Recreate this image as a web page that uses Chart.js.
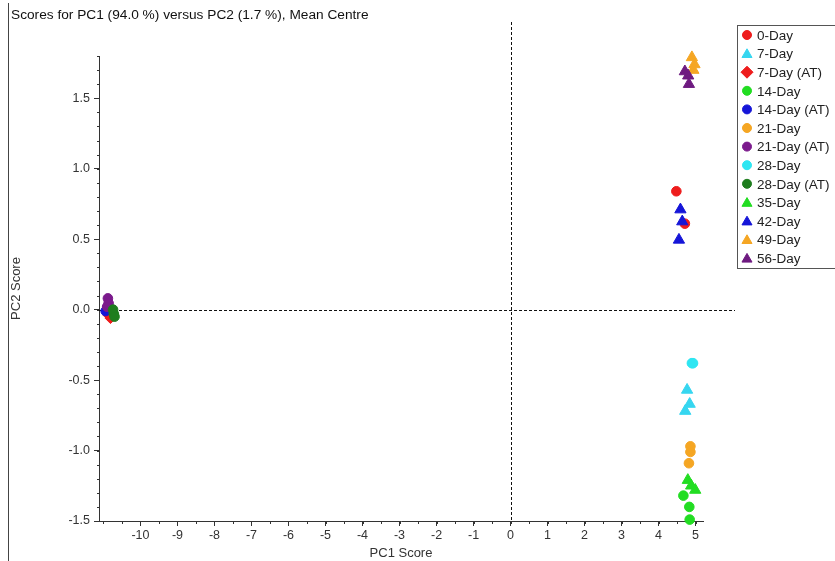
<!DOCTYPE html>
<html>
<head>
<meta charset="utf-8">
<script src="https://cdn.jsdelivr.net/npm/chart.js@4/dist/chart.umd.min.js"></script>
<style>
html,body{margin:0;background:#fff}
#wrap{position:relative;width:835px;height:561px}
</style>
</head>
<body>
<div id="wrap"><canvas id="scores" width="835" height="561"></canvas></div>
<script>
const titleText='Scores for PC1 (94.0 %) versus PC2 (1.7 %), Mean Centre';
const seriesNames=['0-Day','7-Day','7-Day (AT)','14-Day','14-Day (AT)','21-Day','21-Day (AT)','28-Day','28-Day (AT)','35-Day','42-Day','49-Day','56-Day'];

// [PC1, PC2] score pairs for each group
const day0=[[4.48,0.84],[4.71,0.61]];
const day7=[[4.77,-0.57],[4.84,-0.67],[4.72,-0.72]];
const day7AT=[[-10.86,-0.04],[-10.81,-0.06]];
const day14=[[4.67,-1.32],[4.83,-1.40],[4.84,-1.49]];
const day14AT=[[-10.94,-0.01],[-10.90,0.01]];
const day21=[[4.86,-0.97],[4.86,-1.01],[4.82,-1.09]];
const day21AT=[[-10.88,0.08],[-10.86,0.045],[-10.90,0.02]];
const day28=[[4.90,-0.38],[4.93,-0.38]];
const day28AT=[[-10.74,0.0],[-10.72,-0.03],[-10.70,-0.05]];
const day35=[[4.79,-1.21],[4.99,-1.28],[4.88,-1.25]];
const day42=[[4.59,0.71],[4.64,0.625],[4.55,0.495]];
const day49=[[4.90,1.79],[4.97,1.74],[4.94,1.70]];
const day56=[[4.71,1.69],[4.80,1.66],[4.82,1.60]];
const seriesData=[day0,day7,day7AT,day14,day14AT,day21,day21AT,day28,day28AT,day35,day42,day49,day56];

// axis ranges and labelled ticks
const pc1Range=[-11.12,5.2];
const pc2Range=[-1.5,1.8];
const pc1Labels=[-10,-9,-8,-7,-6,-5,-4,-3,-2,-1,0,1,2,3,4,5];
const pc2Labels=[-1.5,-1.0,-0.5,0.0,0.5,1.0,1.5];

const colors=['#ee1c1c','#36d6f0','#ee1c1c','#22dd22','#1515d8','#f5a623','#7b1a8c','#2ee6f2','#1e7d1e','#22dd22','#1515d8','#f5a623','#6e1a80'];
const shapes=['circle','triangle','rectRot','circle','circle','circle','circle','circle','circle','triangle','triangle','triangle','triangle'];
const FONT='"Liberation Sans", Arial, sans-serif';
const INK='#333';

function markerRadius(shape){return shape==='triangle'?6.5:shape==='rectRot'?5.5:4.8;}

function drawMarker(ctx,shape,x,y,r,color){
  ctx.save();
  ctx.fillStyle=color;ctx.strokeStyle=color;ctx.lineWidth=1;
  if(Chart.helpers && Chart.helpers.drawPoint){
    Chart.helpers.drawPoint(ctx,{pointStyle:shape,radius:r,rotation:0,borderWidth:1},x,y);
  }else{
    ctx.beginPath();ctx.arc(x,y,r,0,Math.PI*2);ctx.fill();
  }
  ctx.restore();
}

const decor={
  id:'decor',
  beforeDraw(chart){
    const ctx=chart.ctx;
    ctx.save();
    ctx.fillStyle='#fff';ctx.fillRect(0,0,chart.width,chart.height);
    ctx.strokeStyle='#444';ctx.lineWidth=1;
    ctx.beginPath();ctx.moveTo(8.5,3);ctx.lineTo(8.5,chart.height);ctx.stroke();
    ctx.fillStyle='#111';ctx.font='13.7px '+FONT;ctx.textBaseline='alphabetic';
    ctx.fillText(titleText,11,19);
    ctx.restore();
  },
  beforeDatasetsDraw(chart){
    const ctx=chart.ctx,x=chart.scales.x,y=chart.scales.y;
    const x0=Math.round(x.getPixelForValue(0))+0.5;
    const y0=Math.round(y.getPixelForValue(0))+0.5;
    ctx.save();
    ctx.strokeStyle='#111';ctx.lineWidth=1;ctx.setLineDash([3,2]);
    ctx.beginPath();
    ctx.moveTo(x0,22);ctx.lineTo(x0,chart.chartArea.bottom);
    ctx.moveTo(chart.chartArea.left,y0);ctx.lineTo(735,y0);
    ctx.stroke();
    ctx.restore();
  },
  afterDraw(chart){
    const ctx=chart.ctx,x=chart.scales.x,y=chart.scales.y,a=chart.chartArea;
    ctx.save();
    // minor ticks
    ctx.strokeStyle=INK;ctx.lineWidth=1;
    ctx.beginPath();
    for(let v=-15;v<=18;v++){
      const py=Math.round(y.getPixelForValue(v/10))+0.5;
      ctx.moveTo(a.left-2,py);ctx.lineTo(a.left,py);
    }
    for(let v=-22;v<=10;v++){
      const px=Math.round(x.getPixelForValue(v/2))+0.5;
      ctx.moveTo(px,a.bottom);ctx.lineTo(px,a.bottom+3);
    }
    ctx.stroke();
    // legend box
    ctx.strokeStyle='#555';
    ctx.strokeRect(737.5,25.5,110,243);
    ctx.font='13.5px '+FONT;ctx.textBaseline='middle';ctx.fillStyle='#222';
    seriesNames.forEach((name,i)=>{
      const ry=35+i*18.6;
      const r=shapes[i]==='triangle'?5.8:shapes[i]==='rectRot'?6:4.5;
      drawMarker(ctx,shapes[i],747,ry+(shapes[i]==='triangle'?1:0),r,colors[i]);
      ctx.fillStyle='#222';
      ctx.fillText(name,757,ry+1);
    });
    ctx.restore();
  }
};

const datasets=seriesNames.map((name,i)=>({
  label:name,
  data:seriesData[i].map(p=>({x:p[0],y:p[1]})),
  pointStyle:shapes[i],
  pointRadius:markerRadius(shapes[i]),
  pointBackgroundColor:colors[i],
  pointBorderColor:colors[i],
  pointBorderWidth:1,
  order:seriesNames.length-i,
  clip:false
}));

function keepTicks(list){
  return function(scale){
    scale.ticks=list.map(v=>({value:v}));
  };
}

new Chart(document.getElementById('scores'),{
  type:'scatter',
  data:{datasets},
  options:{
    responsive:false,
    animation:false,
    devicePixelRatio:1,
    layout:{padding:{left:0,top:56,right:132,bottom:0}},
    plugins:{legend:{display:false},tooltip:{enabled:false}},
    scales:{
      x:{
        type:'linear',min:pc1Range[0],max:pc1Range[1],
        afterBuildTicks:keepTicks(pc1Labels),
        afterFit(s){s.height=40;},
        border:{display:true,color:INK,width:1},
        grid:{drawOnChartArea:false,drawTicks:true,tickLength:5,color:INK},
        ticks:{padding:2,color:INK,font:{family:FONT,size:12.5},maxRotation:0,autoSkip:false,callback:v=>String(v)},
        title:{display:true,text:'PC1 Score',color:INK,font:{family:FONT,size:13},padding:{top:0,bottom:0}}
      },
      y:{
        type:'linear',min:pc2Range[0],max:pc2Range[1],
        afterBuildTicks:keepTicks(pc2Labels),
        afterFit(s){s.width=99;},
        border:{display:true,color:INK,width:1},
        grid:{drawOnChartArea:false,drawTicks:true,tickLength:5,color:INK},
        ticks:{padding:4,color:INK,font:{family:FONT,size:12.5},autoSkip:false,callback:v=>Number(v).toFixed(1)},
        title:{display:true,text:'PC2 Score',color:INK,font:{family:FONT,size:13},padding:{top:9,bottom:0}}
      }
    }
  },
  plugins:[decor]
});
</script>
</body>
</html>
